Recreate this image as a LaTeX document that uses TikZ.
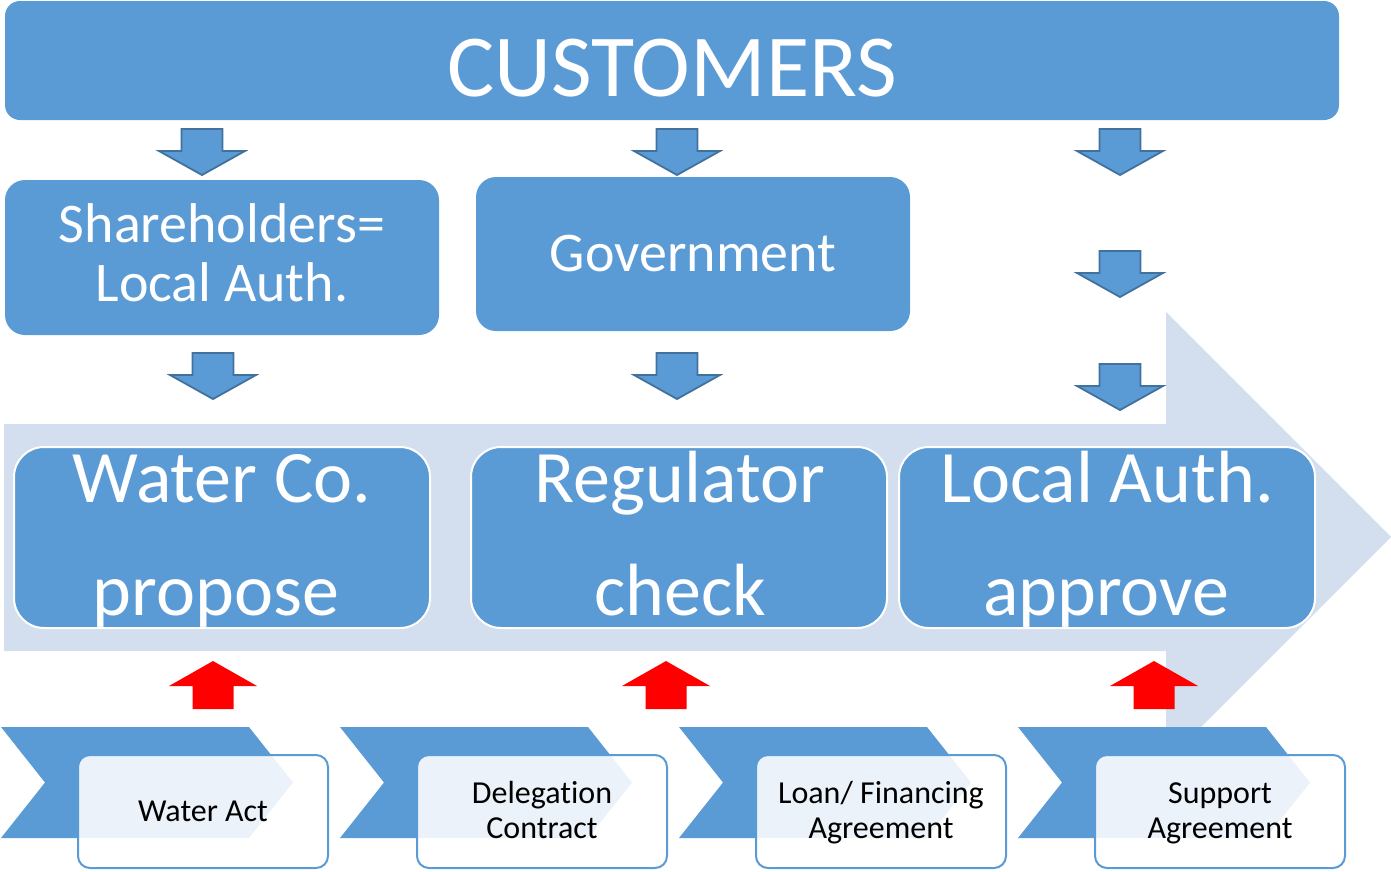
\documentclass[tikz,border=0pt]{standalone}
\usepackage{fontspec}
\setmainfont{Carlito}[Ligatures=NoCommon]
\definecolor{mblue}{HTML}{5B9BD5}
\definecolor{dblue}{HTML}{41719C}
\definecolor{pale}{HTML}{D3DEEF}
\definecolor{redarr}{HTML}{FF0000}
\begin{document}
\begin{tikzpicture}[x=1pt,y=-1pt,
  bluebox/.style={fill=mblue, rounded corners=#1, inner sep=0pt},
  procbox/.style={fill=mblue, draw=white, line width=2pt, rounded corners=30pt,
     minimum width=416pt, minimum height=181pt, inner sep=0pt},
  docbox/.style={fill=white, fill opacity=0.88, draw=mblue, line width=2pt,
     rounded corners=12pt, minimum width=250pt, minimum height=113pt, inner sep=0pt},
  hugetext/.style={text=white, anchor=base, font=\fontsize{88.5}{88}\selectfont},
  midtext/.style={text=white, anchor=base, font=\fontsize{56}{60}\selectfont},
  bigtext/.style={text=white, anchor=base, font=\fontsize{74}{80}\selectfont},
  doctext/.style={text=black, anchor=base, font=\fontsize{32}{35}\selectfont},
  downarrow/.style={fill=mblue, draw=dblue, line width=1.8pt, line join=miter},
  uparrow/.style={fill=redarr}
]
\useasboundingbox (0,0) rectangle (1391,871);

% big background arrow
\fill[pale] (4,424) -- (1166,424) -- (1166,312) -- (1391,537) -- (1166,762) -- (1166,651) -- (4,651) -- cycle;

% customers
\node[bluebox=15pt, minimum width=1334pt, minimum height=119pt] (cust) at (672,60.5) {};
\node[hugetext] (custt) at (672,96) {CUSTOMERS};

% shareholders
\node[bluebox=20pt, minimum width=434pt, minimum height=155pt] (share) at (222,257.5) {};
\node[midtext] (sharea) at (222,242) {Shareholders=};
\node[midtext] (shareb) at (222,301) {Local Auth.};

% government
\node[bluebox=20pt, minimum width=434pt, minimum height=154pt] (gov) at (693,254) {};
\node[midtext] (govt) at (693,271) {Government};

% process boxes
\node[procbox] (water) at (222,537.5) {};
\node[bigtext] (watera) at (222,502) {Water Co.};
\node[bigtext] (waterb) at (216,615) {propose};
\node[procbox] (reg) at (679,537.5) {};
\node[bigtext] (rega) at (680,502) {Regulator};
\node[bigtext] (regb) at (680,615) {check};
\node[procbox] (la) at (1107,537.5) {};
\node[bigtext] (laa) at (1107,502) {Local Auth.};
\node[bigtext] (lab) at (1106,615) {approve};

% down arrows
\foreach \cx/\ty in {202/129, 677/129, 1120/129, 213/353, 677/353, 1120/251, 1120/364}{
  \draw[downarrow] (\cx-20.5,\ty) -- (\cx+20.5,\ty) -- (\cx+20.5,\ty+22) -- (\cx+43,\ty+22)
     -- (\cx,\ty+46) -- (\cx-43,\ty+22) -- (\cx-20.5,\ty+22) -- cycle;
}

% red up arrows
\foreach \cx in {213, 666, 1154}{
  \fill[uparrow] (\cx,661) -- (\cx+44,686) -- (\cx+20.5,686) -- (\cx+20.5,709)
     -- (\cx-20.5,709) -- (\cx-20.5,686) -- (\cx-44,686) -- cycle;
}

% chevrons
\foreach \ox in {0, 339, 678, 1017}{
  \fill[mblue] (\ox+1,727) -- (\ox+249,727) -- (\ox+293,782.5) -- (\ox+249,838)
     -- (\ox+1,838) -- (\ox+45,782.5) -- cycle;
}

% document boxes
\node[docbox] (act) at (203,811.5) {};
\node[doctext] (actt) at (203,821) {Water Act};
\node[docbox] (del) at (542,811.5) {};
\node[doctext] (dela) at (542,803) {Delegation};
\node[doctext] (delb) at (542,838) {Contract};
\node[docbox] (loan) at (881,811.5) {};
\node[doctext] (loana) at (881,803) {Loan/ Financing};
\node[doctext] (loanb) at (881,838) {Agreement};
\node[docbox] (sup) at (1220,811.5) {};
\node[doctext] (supa) at (1220,803) {Support};
\node[doctext] (supb) at (1220,838) {Agreement};
\end{tikzpicture}
\end{document}
